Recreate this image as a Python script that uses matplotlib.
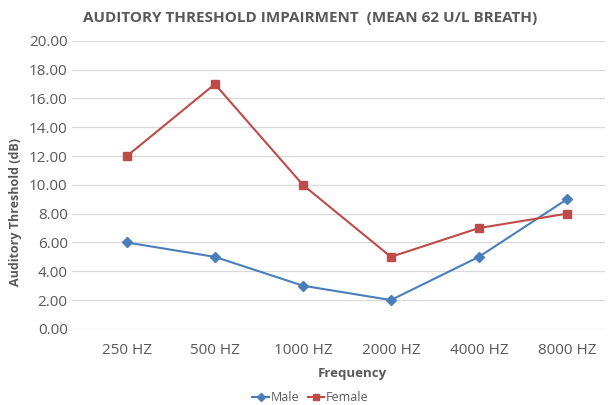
import matplotlib
matplotlib.use("Agg")
import matplotlib.pyplot as plt

# data
frequencies = ["250 HZ", "500 HZ", "1000 HZ", "2000 HZ", "4000 HZ", "8000 HZ"]
male = [6, 5, 3, 2, 5, 9]
female = [12, 17, 10, 5, 7, 8]

plt.rcParams["font.family"] = ["Open Sans", "DejaVu Sans"]
txt = "#595959"

fig = plt.figure(figsize=(6.09, 4.05), dpi=100)
ax = fig.add_axes([0.118, 0.188, 0.875, 0.711])

x = list(range(len(frequencies)))
ax.plot(x, male, color="#4A7EBB", marker="D", markersize=5.5, linewidth=1.5, label="Male")
ax.plot(x, female, color="#BE4B48", marker="s", markersize=5.5, linewidth=1.5, label="Female")

ax.set_xlim(-0.625, 5.43)
ax.set_ylim(0, 20)
ax.set_yticks(range(0, 21, 2))
ax.set_yticklabels([f"{v:.2f}" for v in range(0, 21, 2)])
ax.set_xticks(x)
ax.set_xticklabels(frequencies)
ax.grid(axis="y", color="#D9D9D9", linewidth=0.9)
ax.set_axisbelow(True)
for s in ax.spines.values():
    s.set_visible(False)
ax.tick_params(length=0, labelsize=11, labelcolor=txt, pad=3)
ax.tick_params(axis="x", pad=10)

fig.text(0.025, 0.477, "Auditory Threshold (dB)", rotation=90, ha="center", va="center",
         fontsize=9, fontweight="bold", color=txt)
fig.text(0.578, 0.077, "Frequency", ha="center", va="center",
         fontsize=9.5, fontweight="bold", color=txt)
fig.text(0.509, 0.955, "AUDITORY THRESHOLD IMPAIRMENT  (MEAN 62 U/L BREATH)",
         ha="center", va="center", fontsize=11, fontweight="bold", color=txt)

fig.legend(loc="center", bbox_to_anchor=(0.51, 0.018), ncol=2, frameon=False,
           fontsize=9, handlelength=1.3, handletextpad=0.15, columnspacing=0.7,
           labelcolor=txt, markerscale=0.8)

fig.savefig("out.png", dpi=100)
